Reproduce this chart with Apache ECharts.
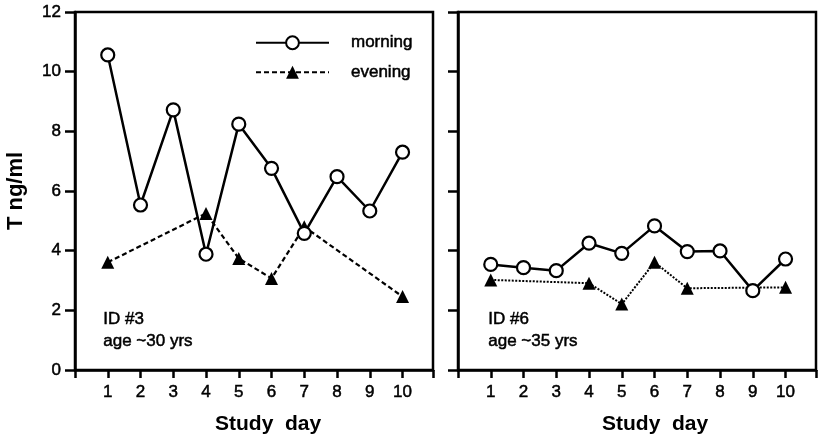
<!DOCTYPE html>
<html>
<head>
<meta charset="utf-8">
<script src="https://cdn.jsdelivr.net/npm/echarts@6/dist/echarts.min.js"></script>
<style>
  html, body { margin: 0; padding: 0; background: #fff; }
  #chart { width: 819px; height: 442px; }
</style>
</head>
<body>
<div id="chart"></div>
<script>
// Testosterone (T, ng/ml) by study day, two subjects
const days = [1, 2, 3, 4, 5, 6, 7, 8, 9, 10];
const eveningDays = [1, 4, 5, 6, 7, 10];

// Subject ID #3
const morningId3 = [10.56, 5.53, 8.72, 3.88, 8.24, 6.76, 4.58, 6.48, 5.33, 7.30];
const eveningId3 = [3.61, 5.25, 3.74, 3.07, 4.80, 2.46];

// Subject ID #6
const morningId6 = [3.54, 3.43, 3.33, 4.25, 3.91, 4.83, 3.97, 3.99, 2.66, 3.72];
const eveningId6 = [3.02, 2.91, 2.21, 3.61, 2.74, 2.77];

const yTicks = [0, 2, 4, 6, 8, 10, 12];

const FONT = '"Liberation Sans", Arial, Helvetica, sans-serif';
// thin outline in the text colour gives the print-like heavier strokes
const INK = { textBorderColor: '#000', textBorderWidth: 0.5 };

function pairs(xs, ys) { return xs.map((x, i) => [x, ys[i]]); }

function xAxisFor(gridIndex) {
  return {
    type: 'value', gridIndex: gridIndex, min: 0, max: 10.93, interval: 1,
    axisLine: { show: true, lineStyle: { color: '#000', width: 2.5 } },
    axisTick: { show: true, length: 8, inside: false, lineStyle: { color: '#000', width: 2.5 } },
    axisLabel: Object.assign({
      show: true, margin: 14, color: '#000', fontSize: 17, fontFamily: FONT,
      showMinLabel: true, showMaxLabel: true,
      formatter: v => (days.indexOf(Math.round(v * 100) / 100) >= 0 ? String(v) : '')
    }, INK),
    splitLine: { show: false }
  };
}

function yAxisFor(gridIndex, showLabels) {
  return {
    type: 'value', gridIndex: gridIndex, min: yTicks[0], max: yTicks[yTicks.length - 1], interval: 2,
    axisLine: { show: true, lineStyle: { color: '#000', width: 2.5 } },
    axisTick: { show: true, length: 10, inside: false, lineStyle: { color: '#000', width: 2.5 } },
    axisLabel: Object.assign({ show: showLabels, margin: 14, color: '#000', fontSize: 17, fontFamily: FONT }, INK),
    splitLine: { show: false }
  };
}

const morningStyle = {
  type: 'line', symbol: 'circle', symbolSize: 13, z: 3,
  lineStyle: { color: '#000', width: 2.5, type: 'solid' },
  itemStyle: { color: '#fff', borderColor: '#000', borderWidth: 2.2 }
};

const chart = echarts.init(document.getElementById('chart'), null, { renderer: 'canvas' });

chart.setOption({
  animation: false,
  backgroundColor: '#fff',
  textStyle: { fontFamily: FONT, color: '#000' },
  grid: [
    { left: 75, top: 12, width: 358, height: 358, show: true, borderColor: '#000', borderWidth: 2.5, backgroundColor: 'transparent' },
    { left: 458, top: 12, width: 361, height: 358, show: true, borderColor: '#000', borderWidth: 2.5, backgroundColor: 'transparent' }
  ],
  xAxis: [xAxisFor(0), xAxisFor(1)],
  yAxis: [
    Object.assign(yAxisFor(0, true), {
      name: 'T ng/ml', nameLocation: 'middle', nameGap: 48, nameRotate: 90,
      nameTextStyle: { fontSize: 22, fontWeight: 'bold', color: '#000', fontFamily: FONT }
    }),
    yAxisFor(1, false)
  ],
  legend: {
    orient: 'vertical', left: 255, top: 34, padding: 0,
    itemWidth: 73, itemHeight: 16, itemGap: 12,
    data: ['morning', 'evening'],
    textStyle: Object.assign({ fontSize: 17, color: '#000', fontFamily: FONT, padding: [0, 0, 0, 17] }, INK)
  },
  series: [
    Object.assign({}, morningStyle, {
      name: 'morning', xAxisIndex: 0, yAxisIndex: 0, data: pairs(days, morningId3)
    }),
    {
      name: 'evening', type: 'line', xAxisIndex: 0, yAxisIndex: 0, z: 2,
      symbol: 'triangle', symbolSize: 13,
      lineStyle: { color: '#000', width: 2.2, type: [5, 3] },
      itemStyle: { color: '#000' },
      data: pairs(eveningDays, eveningId3)
    },
    Object.assign({}, morningStyle, {
      name: 'morning', xAxisIndex: 1, yAxisIndex: 1, data: pairs(days, morningId6)
    }),
    {
      name: 'evening', type: 'line', xAxisIndex: 1, yAxisIndex: 1, z: 2,
      symbol: 'triangle', symbolSize: 13,
      lineStyle: { color: '#000', width: 2, type: [2, 1.5] },
      itemStyle: { color: '#000' },
      data: pairs(eveningDays, eveningId6)
    }
  ],
  graphic: [
    { type: 'text', left: 103, top: 311, style: { text: 'ID #3', font: '17px ' + FONT, fill: '#000', stroke: '#000', lineWidth: 0.5 } },
    { type: 'text', left: 103, top: 333, style: { text: 'age ~30 yrs', font: '17px ' + FONT, fill: '#000', stroke: '#000', lineWidth: 0.5 } },
    { type: 'text', left: 488, top: 311, style: { text: 'ID #6', font: '17px ' + FONT, fill: '#000', stroke: '#000', lineWidth: 0.5 } },
    { type: 'text', left: 488, top: 333, style: { text: 'age ~35 yrs', font: '17px ' + FONT, fill: '#000', stroke: '#000', lineWidth: 0.5 } },
    { type: 'text', left: 215, top: 414, style: { text: 'Study  day', font: 'bold 21px ' + FONT, fill: '#000' } },
    { type: 'text', left: 602, top: 414, style: { text: 'Study  day', font: 'bold 21px ' + FONT, fill: '#000' } }
  ]
});
</script>
</body>
</html>
